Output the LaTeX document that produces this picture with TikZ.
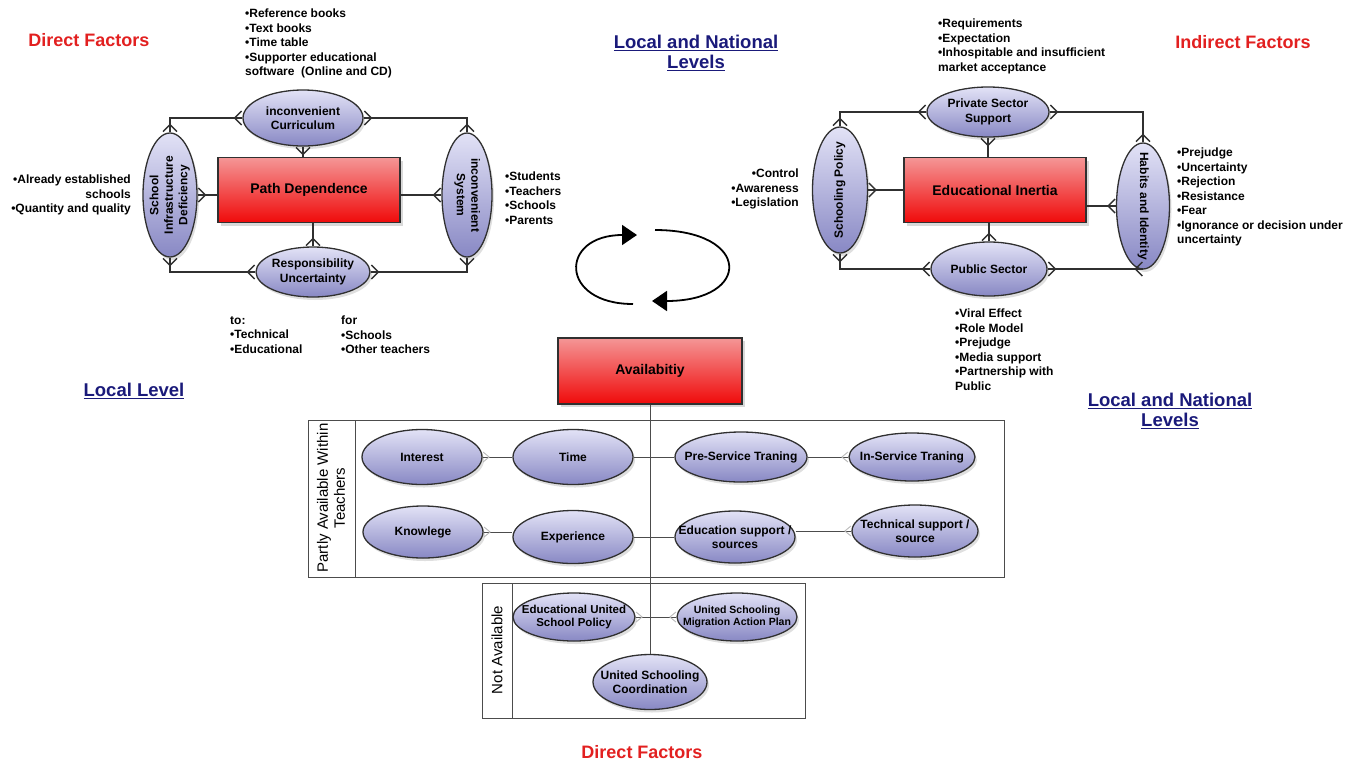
\documentclass[tikz,border=0pt]{standalone}
\usepackage{fontspec}
\setmainfont{Liberation Sans}
\usetikzlibrary{arrows.meta,shapes.geometric,shadows,positioning}
\definecolor{lavtop}{RGB}{226,226,246}
\definecolor{lavbot}{RGB}{136,136,196}
\definecolor{redtop}{RGB}{244,150,150}
\definecolor{redbot}{RGB}{240,10,10}
\definecolor{edgegray}{RGB}{48,48,48}
\definecolor{factorred}{RGB}{226,32,32}
\definecolor{levelblue}{RGB}{26,26,122}
\newcommand{\upward}[1]{\rotatebox{90}{\begin{tabular}{@{}c@{}}#1\end{tabular}}}
\newcommand{\downward}[1]{\rotatebox{-90}{\begin{tabular}{@{}c@{}}#1\end{tabular}}}
\tikzset{
	every node/.style={
		font=\fontsize{12}{14.5}\selectfont\bfseries
	},
	factor/.style={
		shape=ellipse,
		draw=edgegray,
		line width=1.3pt,
		top color=lavtop,
		bottom color=lavbot,
		inner sep=-40pt,
		align=center,
		drop shadow={shadow xshift=2pt,shadow yshift=-3pt,opacity=0.25}
	},
	core/.style={
		shape=rectangle,
		draw=edgegray,
		line width=1.3pt,
		top color=redtop,
		bottom color=redbot,
		minimum width=182pt,
		minimum height=65pt,
		font=\fontsize{14}{16}\selectfont\bfseries,
		drop shadow={shadow xshift=3pt,shadow yshift=-3pt,opacity=0.3}
	},
	notes/.style={
		align=left,
		inner sep=0pt
	},
	factorhead/.style={
		text=factorred,
		font=\fontsize{18}{20}\selectfont\bfseries
	},
	levelhead/.style={
		text=levelblue,
		align=center,
		font=\fontsize{18.5}{20}\selectfont\bfseries
	},
	lanetext/.style={
		rotate=90,
		align=center,
		font=\fontsize{15}{17}\selectfont
	},
	crowfoot/.tip={Straight Barb[reversed,length=7pt,width=14pt]},
	smallfoot/.tip={Straight Barb[reversed,length=6pt,width=10pt,color=gray!55]},
	link/.style={draw=edgegray, line width=1.4pt,
		preaction={draw=edgegray, line width=1.4pt, arrows=-}},
	lanelink/.style={draw=gray!60!black, line width=0.9pt,
		preaction={draw=gray!60!black, line width=0.9pt, arrows=-}},
	lane/.style={draw=gray!60!black, line width=0.9pt},
	turn/.style={line width=1.8pt, -{Triangle[length=15pt,width=20pt]}}
}
\begin{document}
\begin{tikzpicture}[x=1pt,y=-1pt]
  \useasboundingbox (0,0) rectangle (1358,764);

  % path dependence
  \node[core]                                            (pd)  at (309,190) {Path Dependence};
  \node[factor, minimum width=120pt, minimum height=56pt] (cur) at (303,118) {inconvenient\\Curriculum};
  \node[factor, minimum width=54pt, minimum height=124pt] (sid) at (170,195) {\upward{School\\Infrastructure\\Deficiency}};
  \node[factor, minimum width=50pt, minimum height=124pt] (sys) at (467,195) {\downward{inconvenient\\System}};
  \node[factor, minimum width=114pt, minimum height=50pt] (rsp) at (313,272) {Responsibility\\Uncertainty};

  \draw[link, crowfoot-crowfoot] (cur.west) -| (sid.north);
  \draw[link, crowfoot-crowfoot] (cur.east) -| (sys.north);
  \draw[link, crowfoot-crowfoot] (rsp.west) -| (sid.south);
  \draw[link, crowfoot-crowfoot] (rsp.east) -| (sys.south);
  \draw[link, crowfoot-] (cur.south) -- (cur.south |- pd.north);
  \draw[link, crowfoot-] (rsp.north) -- (rsp.north |- pd.south);
  \draw[link, crowfoot-] (sid.east) -- (sid.east -| pd.west);
  \draw[link, crowfoot-] (sys.west) -- (sys.west -| pd.east);

  \node[notes, anchor=north west] (books) at (245,9)
    {•Reference books\\•Text books\\•Time table\\•Supporter educational\\software\ \ (Online and CD)};
  \node[notes, anchor=north east, align=right] (schools) at (131,175)
    {•Already established\\schools\\•Quantity and quality};
  \node[notes, anchor=north west] (users) at (505,172)
    {•Students\\•Teachers\\•Schools\\•Parents};
  \node[notes, anchor=north west] (toward) at (230,316)
    {to:\\•Technical\\•Educational};
  \node[notes, anchor=north west] (forwhom) at (341,316)
    {for\\•Schools\\•Other teachers};

  % educational inertia
  \node[core]                                            (ei)  at (995,190) {Educational Inertia};
  \node[factor, minimum width=122pt, minimum height=50pt] (pss) at (988,112) {Private Sector\\Support};
  \node[factor, minimum width=55pt, minimum height=126pt] (sp)  at (840,190) {\upward{Schooling Policy}};
  \node[factor, minimum width=53pt, minimum height=126pt] (hab) at (1143,206) {\downward{Habits and Identity}};
  \node[factor, minimum width=116pt, minimum height=54pt] (pub) at (989,269) {Public Sector};

  \draw[link, crowfoot-crowfoot] (pss.west) -| (sp.north);
  \draw[link, crowfoot-crowfoot] (pss.east) -| (hab.north);
  \draw[link, crowfoot-crowfoot] (pub.west) -| (sp.south);
  \draw[link, crowfoot-crowfoot] (pub.east) -- (pub.east -| hab.south);
  \draw[link, crowfoot-] (pss.south) -- (pss.south |- ei.north);
  \draw[link, crowfoot-] (pub.north) -- (pub.north |- ei.south);
  \draw[link, crowfoot-] (sp) -- (ei);
  \draw[link, crowfoot-] (hab.west) -- (hab.west -| ei.east);

  \node[notes, anchor=north west] (market) at (938,19)
    {•Requirements\\•Expectation\\•Inhospitable and insufficient\\market acceptance};
  \node[notes, anchor=north east, align=right] (control) at (799,169)
    {•Control\\•Awareness\\•Legislation};
  \node[notes, anchor=north west] (attitude) at (1177,148)
    {•Prejudge\\•Uncertainty\\•Rejection\\•Resistance\\•Fear\\•Ignorance or decision under\\uncertainty};
  \node[notes, anchor=north west] (effects) at (955,309)
    {•Viral Effect\\•Role Model\\•Prejudge\\•Media support\\•Partnership with\\Public};

  % headings
  \node[factorhead] (directtop)      at (89,40)   {Direct Factors};
  \node[factorhead] (indirect)       at (1243,42) {Indirect Factors};
  \node[factorhead] (directbottom)   at (642,752) {Direct Factors};
  \node[levelhead]  (nationaltop)    at (696,53)  {\underline{Local and National}\\\underline{Levels}};
  \node[levelhead]  (local)          at (134,391) {\underline{Local Level}};
  \node[levelhead]  (nationalbottom) at (1170,411) {\underline{Local and National}\\\underline{Levels}};

  % cycle
  \coordinate (loopA) at (633,304);
  \coordinate (loopB) at (637,235);
  \coordinate (loopC) at (655,230);
  \coordinate (loopD) at (652,301);
  \draw[turn] (loopA) .. controls (559,304) and (559,235) .. (loopB);
  \draw[turn] (loopC) .. controls (752,230) and (752,301) .. (loopD);

  % availability
  \draw[lane] (308,420) rectangle (1004,577);
  \draw[lane] (355,420) -- (355,577);
  \draw[lane] (482,583) rectangle (805,718);
  \draw[lane] (512,583) -- (512,718);
  \node[lanetext] (partly)   at (331,498) {Partly Available Within\\Teachers};
  \node[lanetext] (notavail) at (497,650) {Not Available};

  \node[core, minimum width=184pt, minimum height=66pt] (av) at (650,371) {Availabitiy};

  \node[factor, minimum width=120pt, minimum height=55pt] (int) at (422,457) {Interest};
  \node[factor, minimum width=120pt, minimum height=55pt] (tim) at (573,457) {Time};
  \node[factor, minimum width=132pt, minimum height=50pt] (pre) at (741,457) {Pre-Service Traning};
  \node[factor, minimum width=126pt, minimum height=48pt] (ins) at (912,457) {In-Service Traning};
  \node[factor, minimum width=120pt, minimum height=52pt] (kno) at (423,532) {Knowlege};
  \node[factor, minimum width=120pt, minimum height=53pt] (exp) at (573,537) {Experience};
  \node[factor, minimum width=120pt, minimum height=52pt] (eds) at (735,537) {Education support /\\sources};
  \node[factor, minimum width=126pt, minimum height=52pt] (tec) at (915,531) {Technical support /\\source};
  \node[factor, minimum width=122pt, minimum height=48pt, font=\fontsize{11.5}{13.5}\selectfont\bfseries] (eus) at (574,617) {Educational United\\School Policy};
  \node[factor, minimum width=120pt, minimum height=48pt, font=\fontsize{10.5}{12.5}\selectfont\bfseries] (usm) at (737,617) {United Schooling\\Migration Action Plan};
  \node[factor, minimum width=114pt, minimum height=55pt] (usc) at (650,682) {United Schooling\\Coordination};

  \draw[lanelink] (av.south) -- (usc.north);
  \draw[lanelink, smallfoot-] (int.east) -- (tim.west);
  \draw[lanelink] (tim.east) -- (pre.west);
  \draw[lanelink, -smallfoot] (pre.east) -- (ins.west);
  \draw[lanelink, smallfoot-] (kno.east) -- (kno.east -| exp.west);
  \draw[lanelink] (exp.east) -- (eds.west);
  \draw[lanelink, -smallfoot] (tec.west -| eds.east) -- (tec.west);
  \draw[lanelink, smallfoot-smallfoot] (eus.east) -- (usm.west);
\end{tikzpicture}
\end{document}
